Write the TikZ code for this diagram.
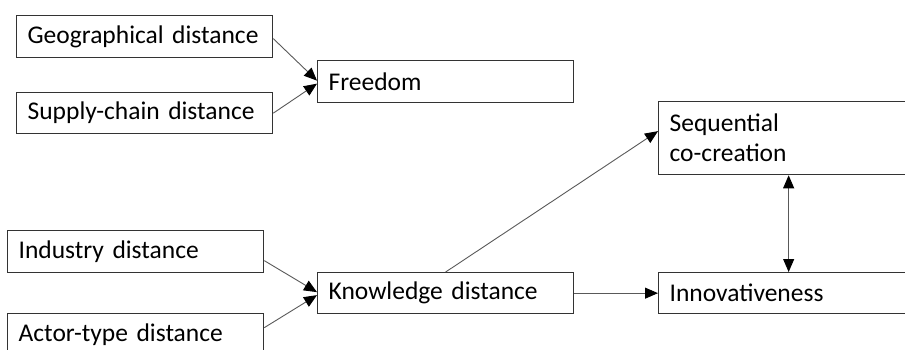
\documentclass[tikz,border=0pt]{standalone}
\usepackage{fontspec}
\setmainfont{Carlito}
\usetikzlibrary{arrows.meta}

\begin{document}
\begin{tikzpicture}[x=1pt,y=-1pt,
		box/.style={draw=black!80, line width=1.3pt, anchor=north west, inner xsep=11pt, inner ysep=0pt, align=left, font=\fontsize{25.5}{30}\selectfont},
		tip/.tip={Triangle[length=13pt,width=11pt,color=black]},
		arr/.style={draw=black!65, line width=0.9pt, -tip}]
		\useasboundingbox (0,0) rectangle (905,350);
		\clip (0,0) rectangle (905,350);
		\node[box, text width=234pt, minimum height=42pt] (geo) at (16,15) {Geographical distance};
		\node[box, text width=234pt, minimum height=41pt] (supply) at (16,92) {Supply-chain distance};
		\node[box, text width=234pt, minimum height=42pt] (freedom) at (317,60) {Freedom};
		\node[box, text width=238pt, minimum height=73pt] (seq) at (658,101) {Sequential\\co-creation};
		\node[box, text width=234pt, minimum height=42pt] (industry) at (7,230) {Industry distance};
		\node[box, text width=234pt, minimum height=42pt] (actor) at (7,313) {Actor-type distance};
		\node[box, text width=234pt, minimum height=41pt] (knowledge) at (317,272) {Knowledge distance};
		\node[box, text width=238pt, minimum height=41pt] (innov) at (658,272) {Innovativeness};
		\draw[arr] ([yshift=-2pt]geo.east) -- ([yshift=1pt]freedom.west);
		\draw[arr] (supply.east) -- ([yshift=-2pt]freedom.west);
		\draw[arr] ([yshift=-9pt]industry.east) -- ([yshift=1pt]knowledge.west);
		\draw[arr] ([yshift=7pt]actor.east) -- ([yshift=-2pt]knowledge.west);
		\draw[arr] (knowledge.north) -- ([yshift=7pt]seq.west);
		\draw[arr] (knowledge.east) -- (innov.west);
		\draw[arr, tip-tip] (seq.south) -- (innov.north);
	\end{tikzpicture}
\end{document}
